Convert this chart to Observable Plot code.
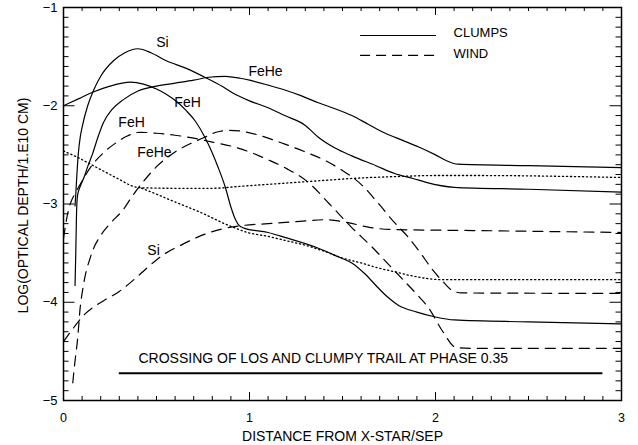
<!DOCTYPE html>
<html><head><meta charset="utf-8">
<script src="https://cdn.jsdelivr.net/npm/d3@7"></script>
<script src="https://cdn.jsdelivr.net/npm/@observablehq/plot@0.6"></script>
<style>html,body{margin:0;padding:0;background:#fff;} svg{display:block}</style>
</head><body><div id="chart"></div>
<script>
// ---- tick labels ----
const xTicks = [0, 1, 2, 3];
const yTicks = [-5, -4, -3, -2, -1];

// ---- CLUMPS (solid) ----
const siClumps = [[0.062,-3.02],[0.066,-2.9],[0.072,-2.7],[0.08,-2.48],[0.09,-2.32],[0.10,-2.22],[0.13,-2.0],[0.16,-1.85],[0.2,-1.7],[0.27,-1.54],[0.33,-1.46],[0.40,-1.42],[0.47,-1.46],[0.55,-1.54],[0.66,-1.62],[0.77,-1.72],[0.85,-1.80],[0.91,-1.87],[1.0,-1.95],[1.1,-2.02],[1.19,-2.10],[1.30,-2.2],[1.37,-2.32],[1.46,-2.43],[1.55,-2.51],[1.68,-2.61],[1.78,-2.69],[1.88,-2.74],[1.95,-2.78],[2.1,-2.83],[2.5,-2.85],[3.0,-2.88]];
const feheClumps = [[0.062,-3.83],[0.066,-3.5],[0.07,-3.1],[0.075,-2.92],[0.09,-2.82],[0.11,-2.73],[0.13,-2.62],[0.156,-2.49],[0.185,-2.32],[0.215,-2.17],[0.26,-2.04],[0.32,-1.94],[0.4,-1.85],[0.5,-1.8],[0.6,-1.77],[0.7,-1.74],[0.78,-1.71],[0.87,-1.70],[0.95,-1.72],[1.0,-1.74],[1.1,-1.79],[1.19,-1.84],[1.28,-1.9],[1.37,-1.97],[1.46,-2.03],[1.55,-2.1],[1.64,-2.19],[1.73,-2.28],[1.82,-2.35],[1.91,-2.42],[2.0,-2.5],[2.06,-2.56],[2.12,-2.595],[2.5,-2.61],[3.0,-2.63]];
const fehClumps = [[0,-2.0],[0.08,-1.93],[0.16,-1.86],[0.25,-1.80],[0.36,-1.76],[0.43,-1.78],[0.5,-1.83],[0.55,-1.88],[0.61,-1.96],[0.66,-2.05],[0.71,-2.16],[0.76,-2.32],[0.80,-2.48],[0.83,-2.62],[0.87,-2.83],[0.90,-3.03],[0.925,-3.16],[0.945,-3.22],[0.97,-3.245],[1.1,-3.29],[1.19,-3.34],[1.37,-3.45],[1.48,-3.54],[1.55,-3.6],[1.62,-3.71],[1.69,-3.85],[1.75,-3.96],[1.8,-4.03],[1.9,-4.1],[2.0,-4.15],[2.1,-4.18],[2.5,-4.2],[3.0,-4.22]];

// ---- WIND (dashed) ----
const siWind = [[0,-4.4],[0.05,-4.27],[0.11,-4.13],[0.22,-3.98],[0.3,-3.89],[0.36,-3.8],[0.42,-3.7],[0.48,-3.6],[0.55,-3.5],[0.63,-3.42],[0.73,-3.33],[0.84,-3.26],[0.96,-3.22],[1.1,-3.2],[1.25,-3.18],[1.41,-3.16],[1.53,-3.19],[1.65,-3.24],[1.78,-3.26],[2.2,-3.27],[3,-3.29]];
const feheWind = [[0.05,-4.82],[0.055,-4.72],[0.065,-4.55],[0.075,-4.39],[0.09,-4.05],[0.105,-3.85],[0.12,-3.7],[0.14,-3.57],[0.16,-3.46],[0.2,-3.32],[0.25,-3.2],[0.32,-3.06],[0.37,-2.92],[0.43,-2.77],[0.5,-2.62],[0.6,-2.47],[0.7,-2.37],[0.76,-2.32],[0.82,-2.27],[0.89,-2.25],[0.96,-2.26],[1.05,-2.3],[1.19,-2.39],[1.3,-2.47],[1.42,-2.57],[1.5,-2.66],[1.6,-2.8],[1.7,-3.01],[1.78,-3.19],[1.85,-3.33],[1.92,-3.5],[1.98,-3.66],[2.04,-3.79],[2.09,-3.88],[2.14,-3.905],[3,-3.91]];
const fehWind = [[0,-3.35],[0.02,-3.12],[0.04,-2.98],[0.06,-2.9],[0.09,-2.8],[0.12,-2.7],[0.16,-2.59],[0.22,-2.47],[0.28,-2.38],[0.34,-2.31],[0.41,-2.27],[0.5,-2.28],[0.6,-2.3],[0.7,-2.33],[0.8,-2.37],[0.9,-2.41],[1.0,-2.47],[1.1,-2.55],[1.2,-2.64],[1.31,-2.77],[1.43,-3.0],[1.55,-3.24],[1.66,-3.44],[1.74,-3.6],[1.82,-3.76],[1.9,-3.92],[1.96,-4.05],[2.04,-4.3],[2.11,-4.46],[2.2,-4.47],[3,-4.47]];

// ---- dotted ----
const dottedUpper = [[0,-2.46],[0.08,-2.53],[0.16,-2.61],[0.24,-2.69],[0.31,-2.76],[0.36,-2.81],[0.42,-2.835],[0.6,-2.84],[0.8,-2.84],[0.95,-2.82],[1.1,-2.8],[1.25,-2.78],[1.4,-2.76],[1.55,-2.74],[1.8,-2.72],[2.0,-2.71],[2.2,-2.71],[3,-2.73]];
const dottedLower = [[0.42,-2.84],[0.5,-2.9],[0.575,-2.96],[0.73,-3.08],[0.89,-3.22],[0.99,-3.29],[1.1,-3.33],[1.19,-3.37],[1.3,-3.42],[1.4,-3.48],[1.5,-3.55],[1.6,-3.6],[1.69,-3.65],[1.78,-3.69],[1.87,-3.73],[2.04,-3.77],[3,-3.77]];

// ---- text ----
const curveLabels = [
  {text:"Si", x:0.532, y:-1.356},
  {text:"FeHe", x:1.086, y:-1.651},
  {text:"FeH", x:0.667, y:-1.966},
  {text:"FeH", x:0.366, y:-2.17},
  {text:"FeHe", x:0.489, y:-2.475},
  {text:"Si", x:0.484, y:-3.47}
];
const legendLabels = ["CLUMPS", "WIND"];
const crossingText = "CROSSING OF LOS AND CLUMPY TRAIL AT PHASE 0.35";
const crossingSpan = [0.3, 2.9];
const crossingLevel = -4.723;
const xTitle = "DISTANCE FROM X-STAR/SEP";
const yTitle = "LOG(OPTICAL DEPTH/1.E10 CM)";

// ---- build tables ----
const toRows = (name, arr) => arr.map(([x, y]) => ({name, x, y}));
const solidRows = [...toRows("Si", siClumps), ...toRows("FeHe", feheClumps), ...toRows("FeH", fehClumps)];
const dashedRows = [...toRows("Si", siWind), ...toRows("FeHe", feheWind), ...toRows("FeH", fehWind)];
const dottedRows = [...toRows("a", dottedUpper), ...toRows("b", dottedLower)];

const W = 638, H = 445, mL = 63, mR = 17, mT = 7, mB = 45;
const pw = W - mL - mR, ph = H - mT - mB;
const xMinor = d3.range(0, 31).filter(i => i % 10 !== 0).map(i => i / 10);
const yMinor = d3.range(-50, -9).filter(i => i % 10 !== 0).map(i => i / 10);

const legendRows = [
  {name: legendLabels[0], x: 1.597, y: -1.285},
  {name: legendLabels[0], x: 2.0, y: -1.285},
  {name: legendLabels[1], x: 1.597, y: -1.488},
  {name: legendLabels[1], x: 2.0, y: -1.488}
];
const legendText = [
  {text: legendLabels[0], x: 2.097, y: -1.259},
  {text: legendLabels[1], x: 2.097, y: -1.473}
];

const tickStyle = {stroke: "black", strokeWidth: 1};
const font = "'Liberation Sans', Arial, sans-serif";
const fmt = d => (d < 0 ? "\u2212" : "") + Math.abs(d);

const chart = Plot.plot({
  width: W, height: H,
  marginLeft: mL, marginRight: mR, marginTop: mT, marginBottom: mB,
  x: {domain: [0, 3]},
  y: {domain: [-5, -1]},
  style: {fontFamily: font, fontSize: "13px", background: "white", color: "black", overflow: "visible"},
  marks: [
    Plot.line(dottedRows, {x: "x", y: "y", z: "name", stroke: "black", strokeWidth: 1.3, strokeDasharray: "1.2,2.8", curve: "monotone-x"}),
    Plot.line(dashedRows, {x: "x", y: "y", z: "name", stroke: "black", strokeWidth: 1.2, strokeDasharray: "10,7", curve: "monotone-x"}),
    Plot.line(solidRows, {x: "x", y: "y", z: "name", stroke: "black", strokeWidth: 1.2, curve: "monotone-x"}),
    Plot.text(curveLabels, {x: "x", y: "y", text: "text", fontSize: 14, fill: "black"}),
    Plot.line(legendRows.slice(0, 2), {x: "x", y: "y", stroke: "black", strokeWidth: 1.2}),
    Plot.line(legendRows.slice(2), {x: "x", y: "y", stroke: "black", strokeWidth: 1.2, strokeDasharray: "9,7"}),
    Plot.text(legendText, {x: "x", y: "y", text: "text", textAnchor: "start", fontSize: 13, fill: "black"}),
    Plot.ruleY([crossingLevel], {x1: crossingSpan[0], x2: crossingSpan[1], stroke: "black", strokeWidth: 2}),
    Plot.text([crossingText], {x: 0.403, y: -4.576, textAnchor: "start", fontSize: 14, fill: "black"}),
    // ticks (inward, all four sides)
    Plot.tickX(xTicks, {x: d => d, insetTop: ph - 8, ...tickStyle}),
    Plot.tickX(xTicks, {x: d => d, insetBottom: ph - 8, ...tickStyle}),
    Plot.tickX(xMinor, {x: d => d, insetTop: ph - 4, ...tickStyle}),
    Plot.tickX(xMinor, {x: d => d, insetBottom: ph - 4, ...tickStyle}),
    Plot.tickY(yTicks, {y: d => d, insetRight: pw - 11.5, ...tickStyle}),
    Plot.tickY(yTicks, {y: d => d, insetLeft: pw - 11.5, ...tickStyle}),
    Plot.tickY(yMinor, {y: d => d, insetRight: pw - 5.5, ...tickStyle}),
    Plot.tickY(yMinor, {y: d => d, insetLeft: pw - 5.5, ...tickStyle}),
    Plot.axisX(xTicks, {tickSize: 0, tickPadding: 13, tickFormat: fmt, label: null, fontSize: 12.5}),
    Plot.axisY(yTicks, {tickSize: 0, tickPadding: 6, tickFormat: fmt, label: null, fontSize: 13}),
    Plot.text([xTitle], {frameAnchor: "bottom", textAnchor: "middle", lineAnchor: "middle", dy: 36, fontSize: 14, fill: "black"}),
    Plot.text([yTitle], {frameAnchor: "left", textAnchor: "middle", lineAnchor: "middle", rotate: -90, dx: -40, dy: 1.5, fontSize: 14, fill: "black"}),
    Plot.frame({stroke: "black", strokeWidth: 1.5})
  ]
});
document.getElementById("chart").appendChild(chart);
</script>
</body></html>
